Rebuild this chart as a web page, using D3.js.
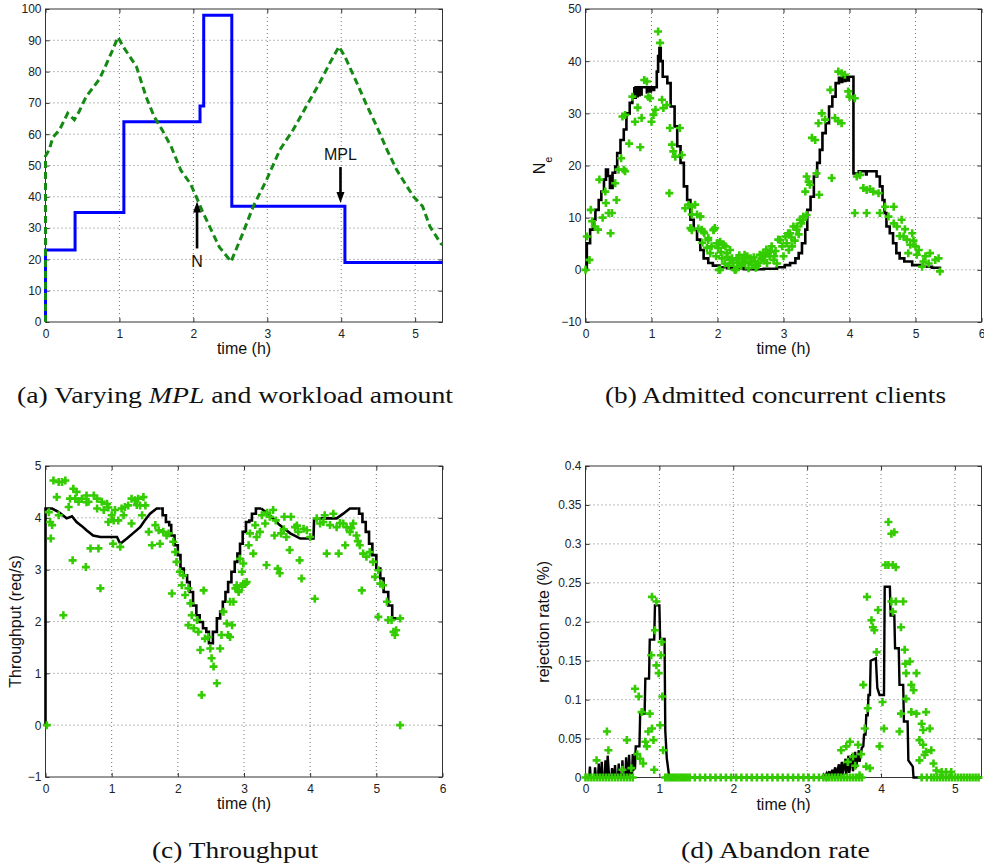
<!DOCTYPE html>
<html><head><meta charset="utf-8">
<script src="https://cdn.jsdelivr.net/npm/d3@7"></script>
<style>body{margin:0;background:#fff}</style>
</head><body>
<svg id="c" width="984" height="866"></svg>
<script>
// ---------------- DATA ----------------
// Panel (a): MPL (blue, step) and workload N (green dashed)
const aMpl = [[0,0],[0,23],[0.40,35],[1.06,64],[2.09,69],[2.14,98],[2.52,37],[4.05,19],[5.37,19]];
const aN = [[0,0],[0,53],[0.05,55],[0.10,59],[0.19,61.4],[0.30,66.7],[0.39,64.6],[0.45,67],[0.55,72],[0.73,77.6],[0.82,82.2],[0.91,87],[0.98,91],
  [1.05,88],[1.23,81.6],[1.36,72],[1.47,65.6],[1.58,61.3],[1.70,56],[1.83,48.5],[1.96,44.2],[2.04,40],[2.12,35.5],[2.22,30.5],[2.35,24],[2.51,19.3],
  [2.67,28.4],[2.81,36.9],[2.99,45.4],[3.17,55],[3.35,61.4],[3.53,69],[3.71,76.5],[3.85,82.9],[3.97,88],
  [4.05,84.8],[4.21,76.5],[4.35,69],[4.48,62.5],[4.62,55],[4.75,48.6],[4.89,43.3],[4.98,40],[5.10,37],[5.20,30.5],[5.35,25],[5.37,24.8]];
const aNotes = [{label:"N", x:2.05, yFrom:23.5, yTo:38.5, textY:17.6},
                {label:"MPL", x:3.99, yFrom:49.5, yTo:38, textY:51.6}];
const aXTicks = [0,1,2,3,4,5];
const aYTicks = [0,10,20,30,40,50,60,70,80,90,100];

// Panel (b): admitted concurrent clients N_e
const bModel = [[0,0],[0.02,5.1],[0.07,7.7],[0.12,9.6],[0.15,11.5],[0.2,13.4],[0.24,15],[0.28,17.3],[0.31,19.2],[0.34,18],[0.37,15.7],[0.41,18.6],[0.45,19.8],
  [0.48,22.4],[0.53,24.9],[0.58,26.9],[0.62,30],[0.67,32],[0.71,33.5],[0.74,34.8],[0.75,33],[0.76,35],[0.78,33.3],[0.79,35],[0.81,33.5],[0.82,35],[0.84,33.6],
  [0.85,35],[0.93,34],[0.94,35],[0.98,34.2],[0.99,35],[1.03,34.5],[1.04,35],[1.08,38],[1.1,41],[1.12,42.5],[1.14,40],[1.17,37],[1.24,35.8],[1.29,31.3],
  [1.35,27.5],[1.39,23.7],[1.44,20.5],[1.49,16],[1.54,13.4],[1.59,9.6],[1.64,7.7],[1.69,5.8],[1.74,3.8],[1.79,2.2],[1.86,1.3],[1.93,0.8],[2.03,0.5],
  [2.15,0.3],[2.4,0.1],[2.7,0.2],[2.9,0.5],[3.02,0.9],[3.1,1.3],[3.18,2.2],[3.23,3.2],[3.28,5.1],[3.33,7.7],[3.36,11.5],[3.41,14],[3.46,17.9],[3.51,20.5],
  [3.55,23],[3.59,26.2],[3.64,28.1],[3.69,31.3],[3.74,33.2],[3.79,35.8],[3.84,36.8],[3.88,36],[3.89,37],[3.93,36.2],[3.94,37],[3.98,36.3],[3.99,37],
  [4.06,18.5],[4.14,18.9],[4.15,18.2],[4.16,18.9],[4.25,18.3],[4.26,18.9],[4.41,17.9],[4.46,16],[4.5,13.4],[4.53,10.9],[4.56,8.3],[4.61,7],[4.66,5.1],
  [4.71,3.2],[4.76,2.2],[4.83,1.6],[4.95,0.9],[5.1,0.6],[5.25,0.4],[5.37,0.3]];
const bMeas = [[0,0],[0.02,6.4],[0.06,1.9],[0.08,11.5],[0.1,9.3],[0.14,8.3],[0.19,7.7],[0.21,17.3],[0.26,10],[0.3,15],[0.31,12.8],[0.35,10.9],[0.38,7],
  [0.4,10.9],[0.45,16.6],[0.47,13.4],[0.5,19.2],[0.54,21.4],[0.58,19.2],[0.6,18.9],[0.56,29.4],[0.6,29.7],[0.66,24.2],[0.71,33.2],[0.75,28.4],[0.79,31.1],
  [0.83,23.5],[0.85,29.1],[0.89,36.4],[0.93,36.1],[0.95,33.2],[0.98,32.9],[1.0,28.4],[1.03,29.7],[1.06,30.7],[1.1,45.7],[1.13,43.5],[1.16,32.6],[1.18,31],
  [1.23,31.6],[1.27,14.7],[1.28,27.2],[1.31,24],[1.33,22.7],[1.36,21.7],[1.43,27.2],[1.46,22],[1.51,11.8],[1.56,12.5],[1.59,8],[1.61,10.6],[1.66,12.5],
  [1.69,10.6],[1.74,10.2],[1.76,7.7],[1.8,7],[1.86,6.1],[1.91,4.5],[1.94,7.7],[1.96,8],[1.99,5.1],[2.01,4.2],[2.02,0],[2.04,5.4],[2.07,2.2],[2.09,4.8],
  [2.12,4.5],[2.14,3.2],[2.19,1.9],[2.22,2.2],[2.24,1.3],[2.28,0],[2.32,1.3],[2.37,2.2],[2.42,1.3],[2.47,0.3],[2.52,1],[2.57,1.6],[2.62,1.3],[2.67,2.2],
  [2.72,2.8],[2.77,3.2],[2.82,4.5],[2.86,2.6],[1.61,12.1],[1.74,10.2],[1.61,7.6],[1.79,7.3],[1.94,7.6],[1.86,5.7],[2.01,5.1],[2.09,4.8],[2.19,3.8],
  [1.89,3.2],[2.29,1.9],[2.39,1.3],[2.49,1.6],[2.69,3.2],[2.79,2.6],[2.95,5.7],[3.1,7],[3.2,8.3],[3.3,9.6],[3.35,10.5],[2.04,0],[2.26,0],[2.15,2.5],
  [2.33,2.8],[2.45,2.6],[2.6,0.8],[2.55,2.4],[2.7,1.8],[2.7,2.6],[2.75,1.3],[2.85,1.9],[2.92,5.8],[2.98,4.5],[3.05,5.1],[3.07,7],[3.13,4.5],[3.15,8.3],
  [3.2,7.7],[3.25,9.6],[3.3,10.2],[3.33,15],[3.35,17.9],[3.38,16.9],[3.4,16.3],[3.5,18.5],[3.54,14.4],[3.43,25.3],[3.48,24.9],[3.53,28.1],[3.58,30],
  [3.63,28.8],[3.73,17.6],[3.78,29.1],[3.83,28.5],[3.88,28.1],[3.71,34.5],[3.83,38],[3.88,37.7],[3.93,37.4],[3.98,34.2],[4.0,33.2],[4.08,32.9],[4.11,17.9],
  [4.16,18.2],[4.21,15.7],[4.26,15.3],[4.36,15],[4.44,14.7],[4.31,15.5],[4.08,10.9],[4.26,10.9],[4.46,10.9],[4.54,12.1],[4.59,10.2],[4.67,12.1],[4.72,8.3],
  [4.79,9.6],[4.82,6.4],[4.87,5.8],[4.95,7],[5.0,4.5],[5.05,3.8],[5.1,0.6],[5.15,2.6],[5.22,3.2],[5.3,1.9],[5.35,2.2],[5.37,-0.3],[4.67,8.9],[4.89,3.2],
  [4.76,6.5],[4.92,4.8],[5.02,2.9],[5.12,1.6],[5.2,1.2],[4.84,7.8],[4.97,5.6],
  [2.05,3.4],[2.11,1.2],[2.17,0.8],[2.3,0.6],[2.36,0.9],[2.41,2.9],[2.5,2.2],[2.58,0.4],[2.64,2.9],[2.74,3.9],[2.8,3.5],[2.88,3.6],[2.9,1.2],[3.0,2.6],
  [3.03,6.4],[3.08,3.8],[3.12,6.2],[3.17,5.6],[3.23,6.8],[3.27,8.9],[1.98,2.6],[1.84,4.2],[1.71,7.9],[1.77,5.2]];
const bXTicks = [0,1,2,3,4,5,6];
const bYTicks = [-10,0,10,20,30,40,50];

// Panel (c): throughput
const cModelSmooth1 = [[0,0],[0,4.18],[0.1,4.18],[0.2,4.11],[0.32,3.99],[0.4,4.03],[0.47,3.92],[0.55,3.84],[0.62,3.76],[0.72,3.66],[0.83,3.63],
  [1.08,3.63],[1.13,3.5],[1.23,3.6],[1.33,3.71],[1.43,3.82],[1.5,3.95],[1.58,4.08],[1.68,4.18],[1.74,4.18]];
const cModelStairs1 = [[1.74,4.18],[1.77,4.05],[1.82,3.92],[1.87,3.86],[1.90,3.66],[1.95,3.47],[2.0,3.28],[2.04,3.02],[2.09,2.89],[2.14,2.76],[2.18,2.57],
  [2.23,2.31],[2.28,2.12],[2.33,1.99],[2.38,1.87],[2.43,1.80],[2.47,1.58],[2.53,1.80],[2.59,2.06],[2.64,2.19],[2.68,2.38],[2.72,2.57],[2.76,2.76],
  [2.81,2.96],[2.86,3.15],[2.9,3.31],[2.94,3.5],[2.98,3.73],[3.03,3.92],[3.08,3.95],[3.12,4.08],[3.18,4.18],[3.26,4.18]];
const cModelSmooth2 = [[3.26,4.18],[3.39,4.05],[3.54,3.86],[3.7,3.7],[3.85,3.6],[4.05,3.6],[4.06,3.99],[4.4,3.99],[4.5,4.08],[4.6,4.18],[4.71,4.18]];
const cModelStairs2 = [[4.71,4.18],[4.74,4.08],[4.79,3.92],[4.84,3.73],[4.89,3.5],[4.94,3.28],[5.0,3.02],[5.06,2.83],[5.11,2.57],[5.18,2.31],[5.24,2.06],[5.36,2.06]];
const cMeas = [[0.02,0],[0.05,4.11],[0.07,3.92],[0.1,3.86],[0.08,3.6],[0.12,4.72],[0.2,4.69],[0.25,4.69],[0.3,4.72],[0.17,4.4],[0.2,4.05],[0.27,2.12],
  [0.35,4.21],[0.37,4.37],[0.42,4.56],[0.45,4.37],[0.47,4.5],[0.5,4.31],[0.41,3.18],[0.55,4.37],[0.62,4.43],[0.65,4.31],[0.61,3.05],[0.68,3.41],[0.8,3.41],
  [0.73,4.43],[0.78,4.37],[0.78,4.18],[0.83,2.64],[0.85,4.31],[0.88,4.15],[0.93,4.27],[0.95,3.92],[1.0,4.05],[1.03,3.95],[1.05,4.15],[1.1,3.95],[1.02,3.5],
  [1.13,3.44],[1.15,4.18],[1.2,4.21],[1.25,4.24],[1.3,3.89],[1.3,4.37],[1.35,4.34],[1.4,4.37],[1.43,4.24],[1.48,4.4],[1.46,4.05],[1.51,4.24],[1.56,3.73],
  [1.61,3.47],[1.66,3.86],[1.71,3.76],[1.73,3.5],[1.78,3.73],[1.83,3.66],[1.86,3.7],[1.91,2.54],[1.93,3.54],[1.96,3.34],[1.98,3.15],[2.03,2.96],[2.06,2.7],
  [2.08,2.89],[2.11,2.51],[2.16,2.64],[2.19,2.35],[2.21,2.12],[2.16,1.93],[2.24,1.87],[2.29,2.03],[2.34,1.45],[2.36,0.58],[2.31,1.8],[2.39,2.6],[2.41,1.67],
  [2.46,1.7],[2.49,1.48],[2.51,1.29],[2.54,1.13],[2.59,0.81],[2.64,1.48],[2.66,1.74],[2.69,2.19],[2.74,1.96],[2.76,1.74],[2.79,1.7],[2.84,2.38],[2.89,2.7],
  [2.92,2.6],[2.97,2.96],[2.99,2.73],[3.04,2.76],[2.79,2.38],[2.82,1.93],[2.87,2.64],[2.92,2.57],[2.97,2.67],[3.02,2.73],[2.99,3.12],[2.94,3.21],[3.07,3.47],
  [3.09,3.7],[3.14,3.31],[3.17,3.86],[3.19,3.63],[3.24,3.73],[3.27,4.05],[3.32,3.89],[3.34,3.09],[3.39,4.02],[3.44,4.15],[3.46,3.66],[3.51,3.02],[3.54,2.93],
  [3.56,3.7],[3.61,4.02],[3.64,3.63],[3.69,3.38],[3.71,4.02],[3.77,3.82],[3.82,3.73],[3.84,3.18],[3.87,2.83],[3.9,3.79],[3.95,3.76],[4.0,3.63],[4.07,2.44],
  [4.1,3.99],[4.15,3.89],[4.22,4.05],[4.25,3.31],[4.3,3.86],[4.35,4.08],[4.4,3.82],[4.43,3.31],[4.5,3.89],[4.53,3.47],[4.55,3.82],[4.6,3.73],[4.65,3.89],
  [4.7,3.66],[4.75,3.47],[4.78,2.6],[4.8,3.31],[4.85,3.25],[4.9,3.34],[4.95,3.15],[4.98,2.86],[5.03,2.99],[5.06,2.73],[5.1,2.7],[5.16,2.38],[5.03,2.09],
  [5.18,2.03],[5.23,2.03],[5.26,1.8],[5.28,1.74],[5.3,1.83],[5.36,2.06],[5.36,0],[3.6,3.78],[3.8,3.85],[4.2,3.92],[4.45,3.9],[4.62,3.8],[4.72,3.55],
  [3.35,4.1],[3.48,3.95],[0.62,4.3],[0.95,4.2],[1.18,4.05],[1.38,4.25]];
const cXTicks = [0,1,2,3,4,5,6];
const cYTicks = [-1,0,1,2,3,4,5];

// Panel (d): abandon (rejection) rate
const dModel = [[0,0],[0.05,0],[0.06,0.014],[0.07,0],[0.12,0],[0.13,0.013],[0.14,0],[0.17,0],[0.18,0.018],[0.19,0],[0.21,0],[0.22,0.02],[0.23,0],
  [0.26,0],[0.27,0.022],[0.28,0],[0.29,0],[0.3,0.028],[0.32,0],[0.35,0],[0.36,0.012],[0.37,0],[0.39,0],[0.4,0.016],[0.41,0],[0.44,0],[0.45,0.018],
  [0.46,0],[0.49,0],[0.5,0.022],[0.51,0],[0.54,0],[0.55,0.026],[0.56,0.003],[0.58,0.003],[0.59,0.029],[0.6,0.005],[0.63,0.005],[0.64,0.03],[0.65,0.01],
  [0.67,0.012],[0.68,0.04],[0.73,0.04],[0.74,0.082],[0.8,0.082],[0.81,0.127],[0.86,0.127],[0.87,0.177],[0.93,0.177],[0.94,0.221],[1.0,0.221],
  [1.01,0.178],[1.07,0.178],[1.08,0.06],[1.1,0.025],[1.13,0.003],[1.15,0],[3.2,0],[3.22,0.003],[3.23,0],[3.26,0.005],[3.27,0],[3.3,0.008],[3.31,0],
  [3.34,0.01],[3.35,0.001],[3.38,0.013],[3.39,0.001],[3.43,0.017],[3.44,0.002],[3.47,0.02],[3.48,0.003],[3.52,0.024],[3.53,0.004],[3.56,0.028],
  [3.57,0.006],[3.61,0.03],[3.62,0.008],[3.65,0.033],[3.66,0.012],[3.7,0.035],[3.71,0.02],[3.74,0.038],[3.76,0.04],[3.77,0.055],[3.79,0.055],[3.8,0.08],
  [3.82,0.08],[3.83,0.106],[3.85,0.106],[3.86,0.15],[3.93,0.153],[3.95,0.115],[3.98,0.106],[4.04,0.106],[4.05,0.245],[4.12,0.245],[4.13,0.208],
  [4.18,0.208],[4.19,0.166],[4.24,0.166],[4.25,0.119],[4.3,0.119],[4.31,0.072],[4.36,0.072],[4.37,0.022],[4.43,0.014],[4.44,0],[5.36,0]];
const dMeas = [[0.15,0.022],[0.29,0.059],[0.31,0.035],[0.56,0.048],[0.67,0.114],[0.72,0.104],[0.74,0.024],[0.76,0.084],[0.78,0.018],[0.81,0.046],
  [0.83,0.04],[0.85,0.059],[0.87,0.082],[0.89,0.157],[0.9,0.063],[0.92,0.048],[0.93,0.01],[0.94,0.189],[0.96,0.144],[0.99,0.134],[1.01,0.067],[1.02,0.157],
  [1.03,0.174],[1.04,0.104],[1.05,0.035],[0.9,0.232],[0.96,0.226],[0.62,0.012],[0.7,0.03],[0.5,0.01],
  [3.46,0.035],[3.53,0.04],[3.58,0.046],[3.62,0.027],[3.69,0.042],[3.71,0.003],[3.76,0.119],[3.78,0.063],[3.8,0.014],[3.82,0.089],[3.85,0.012],[3.87,0.202],
  [3.89,0.193],[3.91,0.189],[3.94,0.161],[3.96,0.215],[3.98,0.04],[4.02,0.097],[4.04,0.063],[3.81,0.232],[4.06,0.273],[4.1,0.328],[4.14,0.313],[4.18,0.315],
  [4.1,0.273],[4.16,0.273],[4.2,0.27],[4.14,0.226],[4.16,0.213],[4.2,0.226],[4.27,0.193],[4.3,0.226],[4.32,0.164],[4.33,0.146],[4.34,0.134],[4.39,0.149],
  [4.41,0.119],[4.44,0.112],[4.48,0.134],[4.27,0.082],[4.25,0.059],[4.34,0.101],[4.41,0.084],[4.48,0.082],[4.55,0.069],[4.57,0.061],[4.61,0.084],
  [4.66,0.063],[4.52,0.048],[4.57,0.042],[4.61,0.033],[4.68,0.035],[4.52,0.022],[4.59,0.029],[4.71,0.018],[4.75,0.009],[4.82,0.007],[4.88,0.007],[4.95,0.007],
  [3.55,0.02],[3.65,0.015],[3.73,0.03]];
const dZeroT = [0.00,0.04,0.08,0.12,0.16,0.20,0.24,0.28,0.32,0.36,0.40,0.44,0.48,0.52,0.56,0.60,0.64,
  1.08,1.11,1.14,1.17,1.20,1.23,1.26,1.29,1.32,1.35,1.38,1.41,
  1.48,1.55,1.62,1.69,1.76,1.83,1.90,1.97,2.04,2.11,2.18,2.25,2.32,2.39,2.46,2.53,2.60,2.67,2.74,2.81,2.88,2.95,3.02,3.09,3.16,
  3.22,3.26,3.30,3.34,3.38,3.42,3.46,3.50,3.54,3.58,3.62,3.66,3.70,3.74,
  4.55,4.62,4.68,4.72,4.76,4.80,4.84,4.88,4.92,4.96,5.00,5.04,5.08,5.12,5.16,5.20,5.24,5.28,5.32];
const dXTicks = [0,1,2,3,4,5];
const dYTicks = [0,0.05,0.1,0.15,0.2,0.25,0.3,0.35,0.4];
const dYLabels = ["0","0.05","0.1","0.15","0.2","0.25","0.3","0.35","0.4"];

const captions = {
  a: [["(a) Varying ", false], ["MPL", true], [" and workload amount", false]],
  b: [["(b) Admitted concurrent clients", false]],
  c: [["(c) Throughput", false]],
  d: [["(d) Abandon rate", false]]
};

// ---------------- DRAWING ----------------
const svg = d3.select("#c");
const SANS = "'Liberation Sans', Arial, Helvetica, sans-serif";
const SERIF = "'Liberation Serif', 'Times New Roman', serif";
const GREEN = "#33cc00";
const fmt = v => (v < 0 ? "\u2212" + Math.abs(v) : String(v));

function makePanel(cfg) {
  const g = svg.append("g");
  const x = d3.scaleLinear().domain(cfg.xd).range([cfg.l, cfg.r]);
  const y = d3.scaleLinear().domain(cfg.yd).range([cfg.b, cfg.t]);
  const W = cfg.r - cfg.l, H = cfg.b - cfg.t;
  // grid
  g.append("g").selectAll("line").data(cfg.xt.filter(v => v > cfg.xd[0] && v < cfg.xd[1])).join("line")
    .attr("x1", d => x(d)).attr("x2", d => x(d)).attr("y1", cfg.t).attr("y2", cfg.b)
    .attr("stroke", "#666").attr("stroke-width", 0.9).attr("stroke-dasharray", "1,3");
  g.append("g").selectAll("line").data(cfg.yt.filter(v => v > cfg.yd[0] && v < cfg.yd[1])).join("line")
    .attr("y1", d => y(d)).attr("y2", d => y(d)).attr("x1", cfg.l).attr("x2", cfg.r)
    .attr("stroke", "#666").attr("stroke-width", 0.9).attr("stroke-dasharray", "1,3");
  // axes
  const xl = cfg.xLabels || cfg.xt.map(fmt);
  const yl = cfg.yLabels || cfg.yt.map(fmt);
  const ax = g.append("g").attr("transform", `translate(0,${cfg.b})`)
    .call(d3.axisBottom(x).tickValues(cfg.xt).tickFormat((d, i) => xl[i]).tickSizeInner(-4).tickSizeOuter(0).tickPadding(7));
  const ay = g.append("g").attr("transform", `translate(${cfg.l},0)`)
    .call(d3.axisLeft(y).tickValues(cfg.yt).tickFormat((d, i) => yl[i]).tickSizeInner(-4).tickSizeOuter(0).tickPadding(4));
  const at = g.append("g").attr("transform", `translate(0,${cfg.t})`)
    .call(d3.axisTop(x).tickValues(cfg.xt).tickFormat("").tickSizeInner(-4).tickSizeOuter(0));
  const ar = g.append("g").attr("transform", `translate(${cfg.r},0)`)
    .call(d3.axisRight(y).tickValues(cfg.yt).tickFormat("").tickSizeInner(-4).tickSizeOuter(0));
  [ax, ay, at, ar].forEach(a => {
    a.select(".domain").remove();
    a.selectAll("line").attr("stroke", "#333");
    a.selectAll("text").attr("font-family", SANS).attr("font-size", 12).attr("fill", "#222");
  });
  // frame
  g.append("rect").attr("x", cfg.l).attr("y", cfg.t).attr("width", W).attr("height", H)
    .attr("fill", "none").attr("stroke", "#333").attr("stroke-width", 1);
  // x label
  g.append("text").attr("x", (cfg.l + cfg.r) / 2).attr("y", cfg.b + 32).attr("text-anchor", "middle")
    .attr("font-family", SANS).attr("font-size", 16).attr("fill", "#111").text("time (h)");
  // caption
  const cap = g.append("text").attr("x", (cfg.l + cfg.r) / 2 + cfg.capDx).attr("y", cfg.b + 80.7)
    .attr("text-anchor", "middle").attr("font-family", SERIF).attr("font-size", 24).attr("fill", "#111")
    .attr("textLength", cfg.capW).attr("lengthAdjust", "spacingAndGlyphs");
  captions[cfg.id].forEach(([t, it]) => cap.append("tspan").attr("font-style", it ? "italic" : "normal").text(t));
  return {g, x, y};
}

function plusMarks(p, pts) {
  p.g.append("g").selectAll("path").data(pts).join("path")
    .attr("transform", d => `translate(${p.x(d[0])},${p.y(d[1])})`)
    .attr("d", "M-4,0H4M0,-4V4").attr("stroke", GREEN).attr("stroke-width", 2.6).attr("fill", "none");
}
function lineOf(p, pts, curve, color, w, dash) {
  const gen = d3.line().x(d => p.x(d[0])).y(d => p.y(d[1])).curve(curve);
  const path = p.g.append("path").attr("d", gen(pts)).attr("fill", "none").attr("stroke", color)
    .attr("stroke-width", w).attr("stroke-linejoin", "miter");
  if (dash) path.attr("stroke-dasharray", dash);
  return path;
}

// Panel A
const pa = makePanel({id: "a", l: 45.5, r: 442.5, t: 9, b: 322, xd: [0, 5.37], yd: [0, 100], xt: aXTicks, yt: aYTicks, capDx: -9, capW: 436});
lineOf(pa, aMpl, d3.curveStepAfter, "#0000ff", 3);
lineOf(pa, aN, d3.curveLinear, "#148a14", 3, "7,4");
aNotes.forEach(n => {
  const xp = pa.x(n.x), y0 = pa.y(n.yFrom), y1 = pa.y(n.yTo);
  const dir = y1 < y0 ? -1 : 1;
  pa.g.append("line").attr("x1", xp).attr("x2", xp).attr("y1", y0).attr("y2", y1 - dir * 8)
    .attr("stroke", "#000").attr("stroke-width", 2.6);
  pa.g.append("path").attr("d", `M${xp},${y1}L${xp - 4},${y1 - dir * 11}L${xp + 4},${y1 - dir * 11}Z`).attr("fill", "#000");
  pa.g.append("text").attr("x", xp).attr("y", pa.y(n.textY)).attr("text-anchor", "middle")
    .attr("font-family", SANS).attr("font-size", 16).attr("fill", "#111").text(n.label);
});

// Panel B
const pb = makePanel({id: "b", l: 585.5, r: 981.5, t: 9, b: 322, xd: [0, 6], yd: [-10, 50], xt: bXTicks, yt: bYTicks, capDx: -8, capW: 341});
lineOf(pb, bModel, d3.curveStepAfter, "#000", 2.6);
plusMarks(pb, bMeas);
{
  const cy = (9 + 322) / 2, bx = 545;
  const t = pb.g.append("text").attr("transform", `translate(${bx},${cy}) rotate(-90)`).attr("text-anchor", "middle")
    .attr("font-family", SANS).attr("font-size", 16).attr("fill", "#111");
  t.append("tspan").text("N");
  t.append("tspan").attr("dy", 7).attr("font-size", 11).text("e");
}

// Panel C
const pc = makePanel({id: "c", l: 45.5, r: 442.5, t: 466, b: 777, xd: [0, 6], yd: [-1, 5], xt: cXTicks, yt: cYTicks, capDx: -9, capW: 166});
lineOf(pc, cModelSmooth1, d3.curveLinear, "#000", 2.6);
lineOf(pc, cModelStairs1, d3.curveStepAfter, "#000", 2.6);
lineOf(pc, cModelSmooth2, d3.curveLinear, "#000", 2.6);
lineOf(pc, cModelStairs2, d3.curveStepAfter, "#000", 2.6);
plusMarks(pc, cMeas);
pc.g.append("text").attr("transform", `translate(21,${(466 + 777) / 2}) rotate(-90)`).attr("text-anchor", "middle")
  .attr("font-family", SANS).attr("font-size", 16).attr("fill", "#111").text("Throughput (req/s)");

// Panel D
const pd = makePanel({id: "d", l: 585.5, r: 981.5, t: 466, b: 777.5, xd: [0, 5.36], yd: [0, 0.4], xt: dXTicks, yt: dYTicks, yLabels: dYLabels, capDx: -8, capW: 189});
lineOf(pd, dModel, d3.curveLinear, "#000", 2.4);
plusMarks(pd, dZeroT.map(t => [t, 0]));
plusMarks(pd, dMeas);
pd.g.append("text").attr("transform", `translate(549,${(466 + 777.5) / 2}) rotate(-90)`).attr("text-anchor", "middle")
  .attr("font-family", SANS).attr("font-size", 16).attr("fill", "#111").text("rejection rate (%)");
</script>
</body></html>
